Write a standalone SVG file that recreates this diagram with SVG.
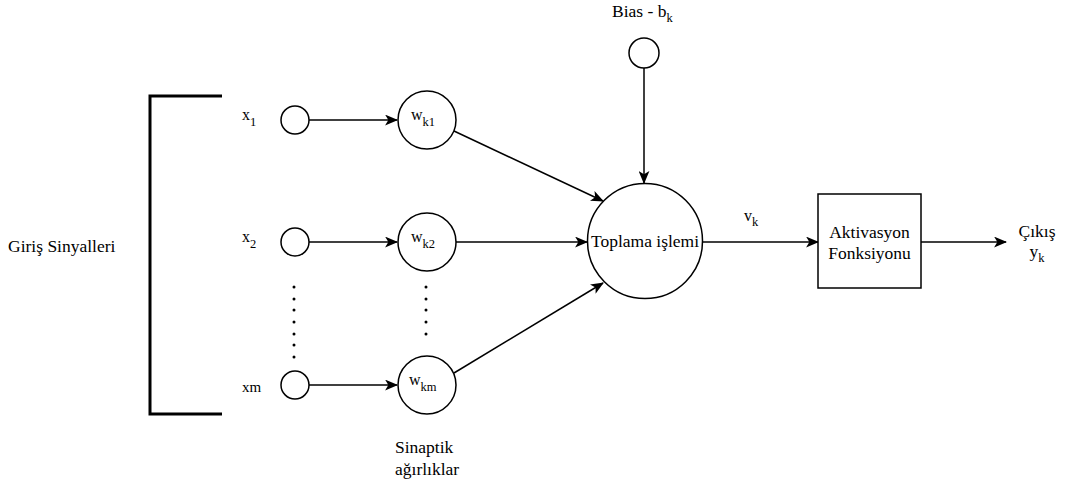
<svg xmlns="http://www.w3.org/2000/svg" width="1090" height="488" viewBox="0 0 1090 488">
  <style>
    .node { fill: #fff; stroke: #000; stroke-width: 1.5; }
    .edge { fill: none; stroke: #000; stroke-width: 1.5; }
    .lbl { font-family: 'Liberation Serif', 'Times New Roman', serif; font-size: 17.5px; fill: #000; }
    .var { font-family: 'Liberation Serif', 'Times New Roman', serif; font-size: 16px; fill: #000; }
    .sub { font-size: 12.5px; }
    .dot { fill: #000; }
  </style>
  <defs>
    <marker id="arrow" viewBox="0 0 12 10" refX="11" refY="5" markerWidth="13" markerHeight="11" markerUnits="userSpaceOnUse" orient="auto">
      <path d="M0,0 L12,5 L0,10 L3,5 Z" fill="#000"/>
    </marker>
  </defs>

  <!-- input bracket -->
  <g id="bracket">
    <path d="M222,96 H150 V414 H222" fill="none" stroke="#000" stroke-width="3"/>
    <text class="lbl" x="8" y="252">Giriş Sinyalleri</text>
  </g>

  <!-- connectors -->
  <g id="connectors">
    <line class="edge" x1="309" y1="120" x2="397" y2="120" marker-end="url(#arrow)"/>
    <line class="edge" x1="309" y1="242" x2="397" y2="242" marker-end="url(#arrow)"/>
    <line class="edge" x1="309" y1="385" x2="397" y2="385" marker-end="url(#arrow)"/>
    <line class="edge" x1="454" y1="131" x2="603" y2="201" marker-end="url(#arrow)"/>
    <line class="edge" x1="456" y1="242" x2="587" y2="242" marker-end="url(#arrow)"/>
    <line class="edge" x1="454" y1="373" x2="603" y2="283" marker-end="url(#arrow)"/>
    <line class="edge" x1="644" y1="68" x2="644" y2="183" marker-end="url(#arrow)"/>
    <line class="edge" x1="703" y1="242" x2="818" y2="242" marker-end="url(#arrow)"/>
    <line class="edge" x1="921" y1="242" x2="1006" y2="242" marker-end="url(#arrow)"/>
  </g>

  <!-- input nodes -->
  <g id="x1">
    <circle class="node" cx="295" cy="120" r="14"/>
    <text class="var" x="242" y="120">x<tspan class="sub" dy="6">1</tspan></text>
  </g>
  <g id="x2">
    <circle class="node" cx="295" cy="242" r="14"/>
    <text class="var" x="242" y="242">x<tspan class="sub" dy="6">2</tspan></text>
  </g>
  <g id="xm">
    <circle class="node" cx="295" cy="385" r="14"/>
    <text class="var" x="242" y="392" style="font-size:15px">xm</text>
  </g>

  <!-- ellipsis dots -->
  <g id="dots">
    <circle class="dot" cx="294" cy="287" r="1.5"/>
    <circle class="dot" cx="294" cy="299" r="1.5"/>
    <circle class="dot" cx="294" cy="310" r="1.5"/>
    <circle class="dot" cx="294" cy="322" r="1.5"/>
    <circle class="dot" cx="294" cy="334" r="1.5"/>
    <circle class="dot" cx="294" cy="345" r="1.5"/>
    <circle class="dot" cx="294" cy="357" r="1.5"/>
    <circle class="dot" cx="426" cy="287" r="1.5"/>
    <circle class="dot" cx="426" cy="299" r="1.5"/>
    <circle class="dot" cx="426" cy="310" r="1.5"/>
    <circle class="dot" cx="426" cy="322" r="1.5"/>
    <circle class="dot" cx="426" cy="334" r="1.5"/>
  </g>

  <!-- weight nodes -->
  <g id="wk1">
    <circle class="node" cx="427" cy="120" r="29"/>
    <text class="var" x="411" y="120">w<tspan class="sub" dy="6">k1</tspan></text>
  </g>
  <g id="wk2">
    <circle class="node" cx="427" cy="242" r="29"/>
    <text class="var" x="411" y="242">w<tspan class="sub" dy="6">k2</tspan></text>
  </g>
  <g id="wkm">
    <circle class="node" cx="427" cy="385" r="29"/>
    <text class="var" x="409" y="385">w<tspan class="sub" dy="6">km</tspan></text>
  </g>
  <g id="weights-label">
    <text class="lbl" x="395" y="453">Sinaptik</text>
    <text class="lbl" x="395" y="475">ağırlıklar</text>
  </g>

  <!-- bias -->
  <g id="bias">
    <circle class="node" cx="644" cy="53" r="15"/>
    <text class="lbl" x="612" y="17">Bias - b<tspan class="sub" dy="5">k</tspan></text>
  </g>

  <!-- summing junction -->
  <g id="sum">
    <circle class="node" cx="645" cy="241" r="57.5"/>
    <text class="lbl" x="645" y="247" text-anchor="middle">Toplama işlemi</text>
  </g>
  <text class="var" x="744" y="221">v<tspan class="sub" dy="5">k</tspan></text>

  <!-- activation -->
  <g id="activation">
    <rect class="node" x="818" y="194" width="103" height="94"/>
    <text class="lbl" x="869.5" y="238" text-anchor="middle">Aktivasyon</text>
    <text class="lbl" x="869.5" y="259" text-anchor="middle">Fonksiyonu</text>
  </g>

  <!-- output -->
  <g id="output">
    <text class="lbl" x="1037" y="237" text-anchor="middle">Çıkış</text>
    <text class="lbl" x="1037" y="257" text-anchor="middle">y<tspan class="sub" dy="5">k</tspan></text>
  </g>
</svg>
